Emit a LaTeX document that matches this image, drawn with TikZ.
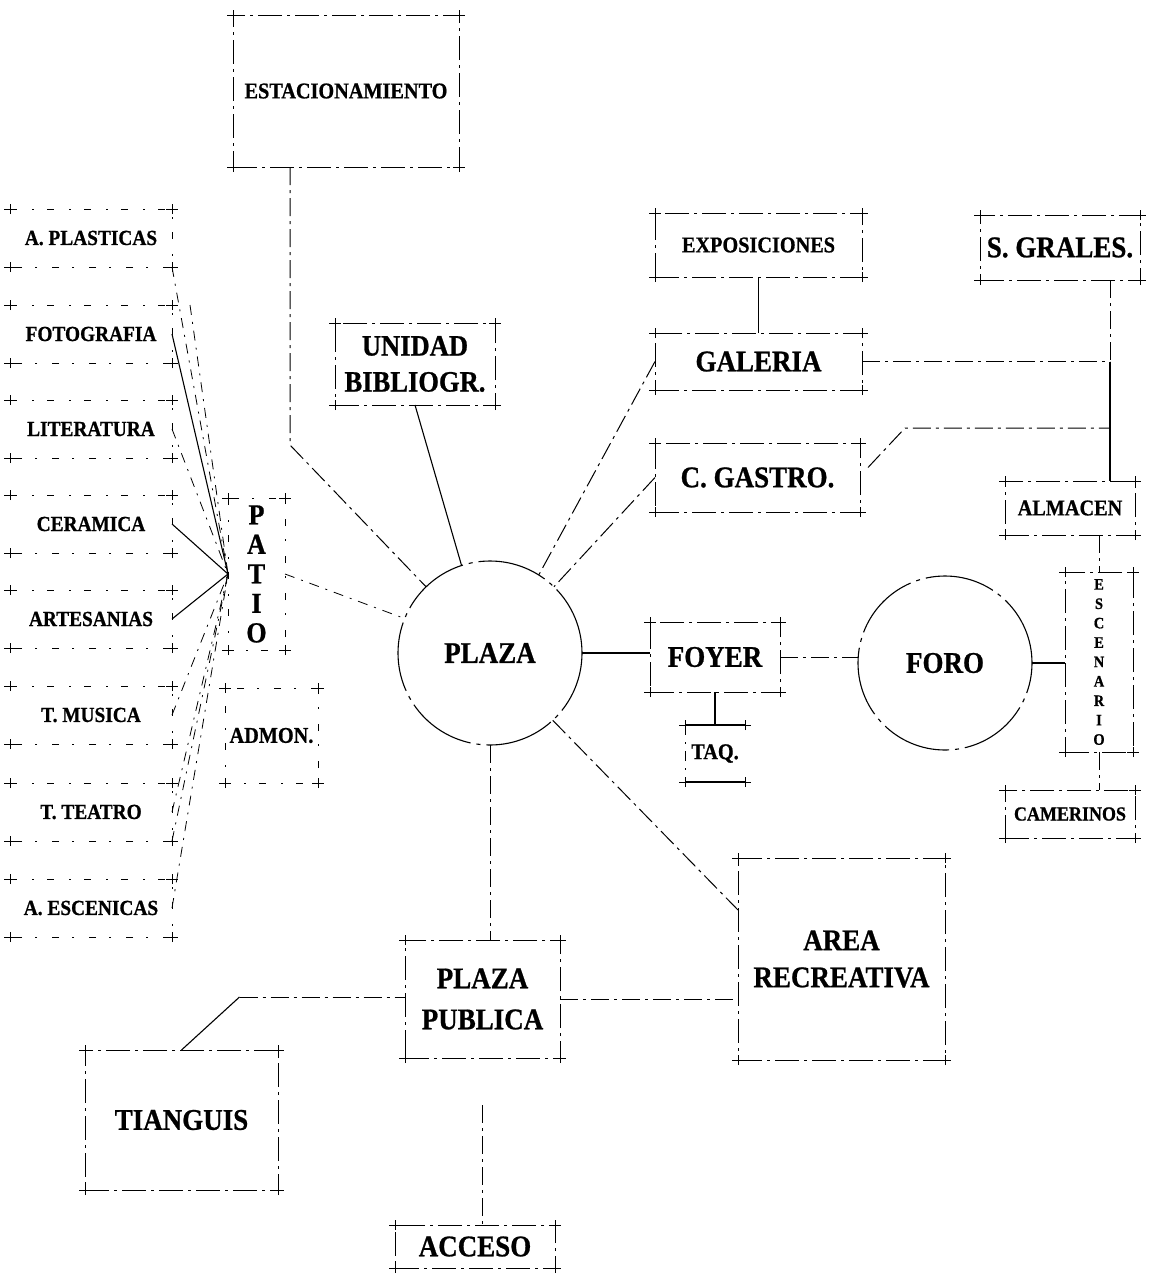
\documentclass[tikz,border=0pt]{standalone}
\usepackage{fontspec}
\setmainfont{Liberation Serif}[FakeStretch=0.9, BoldFeatures={FakeBold=0.8}]
\usetikzlibrary{calc}
\begin{document}
\begin{tikzpicture}[x=1pt,y=-1pt,
  every node/.style={inner sep=0pt, outer sep=0pt, font=\bfseries},
  big/.style={font=\bfseries\fontsize{30}{36}\selectfont},
  small/.style={font=\bfseries\fontsize{22.5}{27}\selectfont},
  lbl/.style={font=\bfseries\fontsize{21.5}{25}\selectfont},
  frame/.style={draw, line width=1pt, dash pattern=on 24pt off 5pt on 3pt off 5pt},
  thin frame/.style={line width=0.8pt, dash pattern=on 7pt off 15pt on 2pt off 13pt},
  tick/.style={line width=1pt},
  link/.style={line width=1.1pt},
  dlink/.style={line width=1pt, dash pattern=on 18pt off 5pt on 3pt off 5pt},
  flink/.style={line width=0.8pt, dash pattern=on 10pt off 7pt on 2pt off 7pt},
  ring/.style={circle, draw, line width=1.1pt, dash pattern=on 70pt off 6pt on 4pt off 6pt},
]
\useasboundingbox (0,0) rectangle (1155,1280);

% ---- parking ----
\node[frame, small, minimum width=226pt, minimum height=152pt] (est) at (346,91) {ESTACIONAMIENTO};

% ---- workshops column ----
\foreach \n/\y/\t in {plast/238/A. PLASTICAS, foto/334/FOTOGRAFIA, lit/429/LITERATURA,
  cer/524/CERAMICA, art/619/ARTESANIAS, mus/715/T. MUSICA, tea/812/T. TEATRO, aesc/908/A. ESCENICAS}{
  \node[lbl, minimum width=162pt, minimum height=58pt] (\n) at (91,\y) {\t};
  \draw[thin frame] (\n.north west) -- (\n.north east) -- (\n.south east) -- (\n.south west);
}

% ---- patio and administration ----
\node[align=center, font=\bfseries\fontsize{29}{29.5}\selectfont, minimum width=57pt, minimum height=152pt] (patio) at (256.5,574) {P\\A\\T\\I\\O};
\draw[thin frame] (patio.north west) rectangle (patio.south east);
\node[small, minimum width=93pt, minimum height=95pt] (admon) at (271.5,735.5) {ADMON.};
\draw[thin frame] (admon.north east) -- (admon.north west) -- (admon.south west) -- (admon.south east) -- (admon.north east);

% ---- central plaza ----
\node[ring, big, minimum size=184pt] (plaza) at (490,653) {PLAZA};
\node[frame, align=center, font=\bfseries\fontsize{29.5}{36}\selectfont, minimum width=160pt, minimum height=82pt] (unid) at (415,364) {UNIDAD\\BIBLIOGR.};

% ---- gallery wing ----
\node[frame, small, minimum width=207pt, minimum height=64pt] (expo) at (758.5,245) {EXPOSICIONES};
\node[frame, big, minimum width=207pt, minimum height=57pt] (gal) at (758.5,361.5) {GALERIA};
\node[frame, big, minimum width=205pt, minimum height=69pt] (gast) at (757.5,477.5) {C. GASTRO.};

% ---- services ----
\node[frame, big, minimum width=160pt, minimum height=65pt] (sgr) at (1060,247.5) {S. GRALES.};
\node[frame, small, minimum width=130pt, minimum height=54pt] (alm) at (1070,508) {ALMACEN};
\node[frame, align=center, font=\bfseries\fontsize{16}{19.4}\selectfont, minimum width=68pt, minimum height=180pt] (esc) at (1099,662) {E\\S\\C\\E\\N\\A\\R\\I\\O};
\node[frame, font=\bfseries\fontsize{20}{24}\selectfont, minimum width=130pt, minimum height=48pt] (cam) at (1070,814) {CAMERINOS};

% ---- theatre ----
\node[ring, big, minimum size=174pt] (foro) at (945,663) {FORO};
\node[frame, big, minimum width=130pt, minimum height=70pt] (foyer) at (715,657) {FOYER};
\node[small, minimum width=60pt, minimum height=57pt] (taq) at (715,753.5) {TAQ.};
\draw[link] (taq.north west) -- (taq.north east);
\draw[link] (taq.south west) -- (taq.south east);
\draw[flink] (taq.north west) -- (taq.south west);

% ---- outdoor areas ----
\node[frame, align=center, font=\bfseries\fontsize{30}{37}\selectfont, minimum width=207pt, minimum height=202pt] (area) at (841.5,959) {AREA\\RECREATIVA};
\node[frame, align=center, font=\bfseries\fontsize{30}{41}\selectfont, minimum width=155pt, minimum height=118pt] (pub) at (482.5,999) {PLAZA\\PUBLICA};
\node[frame, big, minimum width=193pt, minimum height=140pt] (tian) at (181.5,1120) {TIANGUIS};
\node[frame, big, minimum width=160pt, minimum height=43pt] (acc) at (475,1246.5) {ACCESO};

% ---- corner crosses ----
\foreach \n in {est,plast,foto,lit,cer,art,mus,tea,aesc,patio,admon,unid,expo,gal,gast,sgr,alm,esc,cam,foyer,taq,area,pub,tian,acc}{
  \foreach \a in {north west,north east,south west,south east}{
    \draw[tick] ([xshift=-6pt]\n.\a) -- ([xshift=6pt]\n.\a) ([yshift=-5pt]\n.\a) -- ([yshift=5pt]\n.\a);
  }
}

% ---- connectors ----
\coordinate (estout) at ($(est.south west)+(57,0)$);
\coordinate (estbend) at ($(estout)+(0,278)$);
\draw[dlink] (estout) -- (estbend) -- (plaza.134);

\coordinate (fan) at (patio.west);
\draw[flink] (plast.south east) -- (fan);
\draw[link] (foto.east) -- (fan);
\draw[flink] ([xshift=18pt]foto.north east) -- (fan);
\draw[flink] (lit.east) -- (fan);
\draw[link] (cer.east) -- (fan);
\draw[link] (art.east) -- (fan);
\draw[flink] (mus.east) -- (fan);
\draw[flink] (tea.east) -- (fan);
\draw[flink] (tea.south east) -- (fan);
\draw[flink] (aesc.east) -- (fan);
\draw[flink] (patio.east) -- (plaza.158);

\draw[link] (unid.south) -- (plaza.108);
\draw[dlink] (gal.west) -- (plaza.58);
\draw[dlink] (gast.west) -- (plaza.46);
\draw[link] (expo.south) -- (gal.north);

\coordinate (trunk) at ($(sgr.south east)+(-30,0)$);
\draw[dlink] (trunk) -- (trunk |- gal.east);
\draw[link] (trunk |- gal.east) -- (trunk |- alm.north);
\draw[dlink] (gal.east) -- (trunk |- gal.east);
\coordinate (gastout) at ($(gast.east)+(8,-10)$);
\coordinate (gastbend) at ($(gast.north east)+(45,-15)$);
\draw[dlink] (gastout) -- (gastbend) -- (trunk |- gastbend);

\draw[dlink] (alm.south -| esc.north) -- (esc.north);
\draw[dlink] (esc.south) -- (esc.south |- cam.north);
\draw[link] (foro.east) -- (foro.east -| esc.west);
\draw[link] (plaza.east) -- (plaza.east -| foyer.west);
\draw[dlink] (foyer.east) -- (foyer.east -| foro.west);
\draw[link] (foyer.south) -- (taq.north);

\draw[dlink] (plaza.-47) -- ($(area.north west)+(0,52)$);
\draw[dlink] (plaza.south) -- (plaza.south |- pub.north);
\draw[dlink] (pub.east) -- (pub.east -| area.west);
\coordinate (tianbend) at ($(tian.north)+(58,-53)$);
\draw[link] (tian.north) -- (tianbend);
\draw[dlink] (tianbend) -- (tianbend -| pub.west);
\coordinate (pubout) at ($(pub.south)+(0,47)$);
\draw[dlink] (pubout) -- (pubout |- acc.north);
\end{tikzpicture}
\end{document}
